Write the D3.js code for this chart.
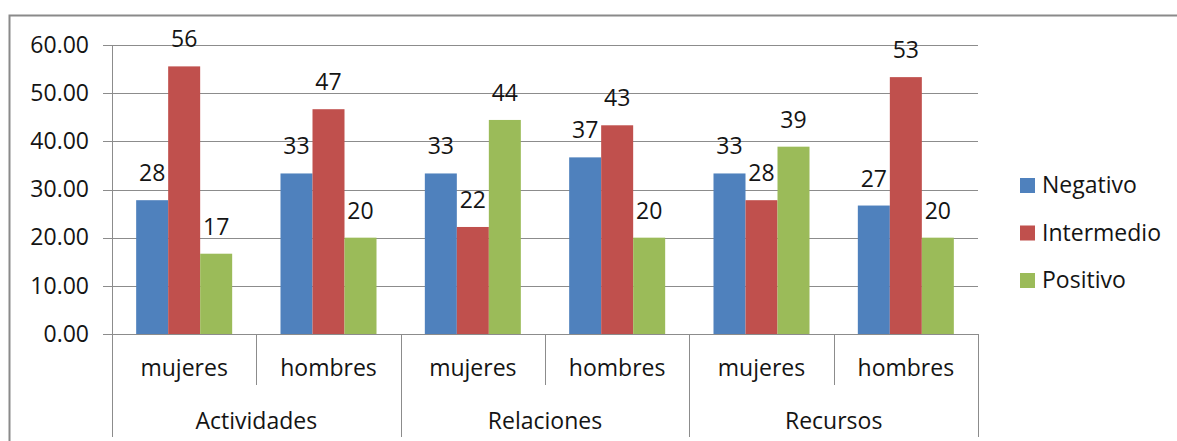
<!DOCTYPE html>
<html>
<head>
<meta charset="utf-8">
<script src="https://cdn.jsdelivr.net/npm/d3@7"></script>
<style>
  html, body { margin: 0; padding: 0; background: #fff; }
  svg { display: block; }
  text { font-family: "Open Sans", "Noto Sans", sans-serif; fill: #141414; }
</style>
</head>
<body>
<svg id="chart" width="1177" height="441"></svg>
<script>
// Groups and the sub-categories inside each group
const groups = ["Actividades", "Relaciones", "Recursos"];
const subgroups = ["mujeres", "hombres"];
const series = ["Negativo", "Intermedio", "Positivo"];
const colors = ["#4F81BD", "#C0504D", "#9BBB59"];

// Percentages per series, in order: Actividades (mujeres, hombres), Relaciones (...), Recursos (...)
const negativo   = [27.78, 33.33, 33.33, 36.67, 33.33, 26.67];
const intermedio = [55.56, 46.67, 22.22, 43.33, 27.78, 53.33];
const positivo   = [16.67, 20.00, 44.44, 20.00, 38.89, 20.00];
const yTicks = [0, 10, 20, 30, 40, 50, 60];

const seriesValues = [negativo, intermedio, positivo];

// One entry per (group, subgroup) cell
const cells = [];
groups.forEach((g, gi) => subgroups.forEach((s, si) => {
  const i = gi * subgroups.length + si;
  cells.push({ key: g + "|" + s, group: g, sub: s,
               values: series.map((name, k) => ({ name, k, value: seriesValues[k][i] })) });
}));

const svg = d3.select("#chart");
const plotLeft = 112, plotRight = 978, plotTop = 45, plotBottom = 334;
const gridColor = "#8c8c8c";
const fontSize = 23;

// Outer chart frame (only left and top edges fall inside the view)
svg.append("path")
  .attr("d", "M9.5,441 V15.5 H1177")
  .attr("fill", "none").attr("stroke", "#8a8a8a").attr("stroke-width", 2);

const y = d3.scaleLinear().domain([0, 60]).range([plotBottom, plotTop]);
const x = d3.scaleBand().domain(cells.map(c => c.key)).range([plotLeft, plotRight]).padding(0);
const xInner = d3.scaleBand().domain(series).range([0, x.bandwidth()])
  .paddingInner(0).paddingOuter(0.755);

// Horizontal gridlines with short ticks to the left of the axis
svg.append("g").selectAll("line").data(yTicks).join("line")
  .attr("x1", plotLeft - 9).attr("x2", plotRight)
  .attr("y1", d => Math.round(y(d)) + 0.5).attr("y2", d => Math.round(y(d)) + 0.5)
  .attr("stroke", gridColor).attr("stroke-width", 1);

// Value axis labels
svg.append("g").selectAll("text").data(yTicks).join("text")
  .attr("x", 89).attr("y", d => y(d)).attr("dy", "0.34em")
  .attr("text-anchor", "end").attr("font-size", fontSize)
  .text(d3.format(".2f"));

// Vertical value axis line
svg.append("line")
  .attr("x1", plotLeft + 0.5).attr("x2", plotLeft + 0.5).attr("y1", plotTop).attr("y2", 437)
  .attr("stroke", gridColor);

// Bars
const cellG = svg.append("g").selectAll("g").data(cells).join("g")
  .attr("transform", d => `translate(${x(d.key)},0)`);

cellG.selectAll("rect").data(d => d.values).join("rect")
  .attr("x", d => xInner(d.name)).attr("width", xInner.bandwidth())
  .attr("y", d => y(d.value)).attr("height", d => y(0) - y(d.value))
  .attr("fill", d => colors[d.k]);

// Value labels above bars
cellG.selectAll("text").data(d => d.values).join("text")
  .attr("x", d => xInner(d.name) + xInner.bandwidth() / 2)
  .attr("y", d => y(d.value) - 19)
  .attr("text-anchor", "middle").attr("font-size", fontSize)
  .text(d => d3.format(".0f")(d.value));

// Category axis baseline
svg.append("line")
  .attr("x1", plotLeft).attr("x2", plotRight)
  .attr("y1", plotBottom + 0.5).attr("y2", plotBottom + 0.5)
  .attr("stroke", gridColor);

// Divider lines: short ones between subgroups, long ones between groups
const boundaries = d3.range(cells.length + 1).map(i => ({
  x: plotLeft + i * x.step(),
  long: i % subgroups.length === 0
}));
svg.append("g").selectAll("line").data(boundaries).join("line")
  .attr("x1", d => Math.round(d.x) + 0.5).attr("x2", d => Math.round(d.x) + 0.5)
  .attr("y1", plotBottom).attr("y2", d => d.long ? 437 : 385)
  .attr("stroke", gridColor);

// Subgroup labels
svg.append("g").selectAll("text").data(cells).join("text")
  .attr("x", d => x(d.key) + x.bandwidth() / 2).attr("y", 368).attr("dy", "0.35em")
  .attr("text-anchor", "middle").attr("font-size", fontSize)
  .text(d => d.sub);

// Group labels
svg.append("g").selectAll("text").data(groups).join("text")
  .attr("x", (d, i) => plotLeft + (i + 0.5) * subgroups.length * x.step())
  .attr("y", 421).attr("dy", "0.35em")
  .attr("text-anchor", "middle").attr("font-size", fontSize)
  .text(d => d);

// Legend
const legend = svg.append("g").selectAll("g").data(series).join("g")
  .attr("transform", (d, i) => `translate(1020,${178 + i * 47.5})`);
legend.append("rect").attr("width", 15).attr("height", 15)
  .attr("fill", (d, i) => colors[i]);
legend.append("text").attr("x", 22).attr("y", 15)
  .attr("font-size", fontSize).text(d => d);
</script>
</body>
</html>
